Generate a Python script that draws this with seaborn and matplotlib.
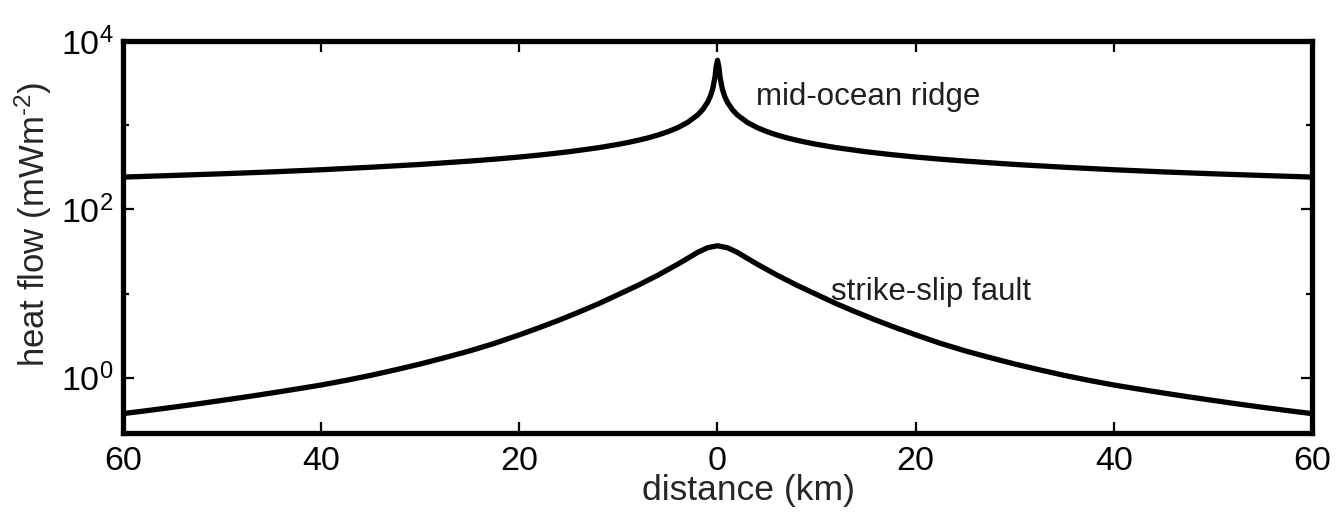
import numpy as np
import pandas as pd
import matplotlib
matplotlib.use("Agg")
import matplotlib.pyplot as plt
from matplotlib.ticker import FixedLocator, NullFormatter
import seaborn as sns

# values (one side, both curves are symmetric about 0)
ridge_dist = [0, 0.15, 0.25, 0.5, 0.75, 1, 1.5, 2, 3, 4, 5, 6, 7, 8, 9, 10,
              12, 15, 17.5, 20, 22.5, 25, 30, 35, 40, 45, 50, 55, 60]
ridge_flow = [5900, 4840, 3750, 2650, 2165, 1875, 1530, 1325, 1082, 937, 838,
              765, 708, 663, 625, 593, 541, 484, 448, 419, 395, 375, 342, 317,
              296, 279, 265, 253, 242]

fault_dist = [0, 1, 2, 3, 4, 5, 6, 8, 10, 12, 14, 16, 18, 20, 22.5, 25, 27.5,
              30, 32.5, 35, 37.5, 40, 42.5, 45, 47.5, 50, 52.5, 55, 57.5, 60]
fault_flow = [37.0, 35.1, 30.9, 26.3, 22.4, 19.3, 16.6, 12.6, 9.77, 7.59, 6.03,
              4.84, 3.94, 3.24, 2.57, 2.09, 1.74, 1.46, 1.245, 1.07, 0.933,
              0.822, 0.736, 0.661, 0.596, 0.540, 0.490, 0.447, 0.409, 0.376]

xtick_vals = [-60, -40, -20, 0, 20, 40, 60]
xtick_labels = ["60", "40", "20", "0", "20", "40", "60"]
ytick_vals = [1, 100, 10000]
ytick_labels = ["$10^{0}$", "$10^{2}$", "$10^{4}$"]
yminor_vals = [10, 1000]


def mirror(dist, flow):
    x = [-d for d in dist[:0:-1]] + list(dist)
    y = list(flow[:0:-1]) + list(flow)
    return pd.DataFrame({"distance": x, "heat": y})


ridge = mirror(ridge_dist, ridge_flow)
fault = mirror(fault_dist, fault_flow)

sns.set_style("ticks")
plt.rcParams["font.family"] = ["Liberation Sans", "DejaVu Sans"]
plt.rcParams["mathtext.fontset"] = "custom"
plt.rcParams["mathtext.rm"] = "Liberation Sans"
plt.rcParams["mathtext.it"] = "Liberation Sans"

fig = plt.figure(figsize=(13.43, 5.19), dpi=100)
ax = fig.add_axes([0.0916, 0.1657, 0.8853, 0.7553])

sns.lineplot(data=ridge, x="distance", y="heat", color="black", lw=3.8, ax=ax)
sns.lineplot(data=fault, x="distance", y="heat", color="black", lw=3.8, ax=ax)

ax.set_yscale("log")
ax.set_xlim(-60, 60)
ax.set_ylim(10 ** -0.655, 1e4)

ax.xaxis.set_major_locator(FixedLocator(xtick_vals))
ax.set_xticklabels(xtick_labels)
ax.yaxis.set_major_locator(FixedLocator(ytick_vals))
ax.set_yticklabels(ytick_labels)
ax.yaxis.set_minor_locator(FixedLocator(yminor_vals))
ax.yaxis.set_minor_formatter(NullFormatter())
ax.xaxis.set_minor_locator(FixedLocator([]))

ax.tick_params(which="both", direction="in", top=True, right=True,
               width=1.6, colors="black", labelsize=24.5)
ax.tick_params(axis="x", pad=9)
ax.tick_params(axis="y", pad=7)
ax.tick_params(which="major", length=8)
ax.tick_params(which="minor", length=4.5)
for s in ax.spines.values():
    s.set_linewidth(3.8)
    s.set_color("black")

ax.set_xlabel("distance (km)", fontsize=25.5)
ax.xaxis.set_label_coords(0.526, -0.105)
ax.set_ylabel("heat flow (mWm$^{\u20102}$)", fontsize=25)
ax.yaxis.set_label_coords(-0.058, 0.533)

ax.text(3.9, 1715, "mid-ocean ridge", fontsize=22.5, color="#231f20",
        va="baseline", ha="left")
ax.text(11.5, 8.4, "strike-slip fault", fontsize=22.5, color="#231f20",
        va="baseline", ha="left")

fig.savefig("out.png", dpi=100)
